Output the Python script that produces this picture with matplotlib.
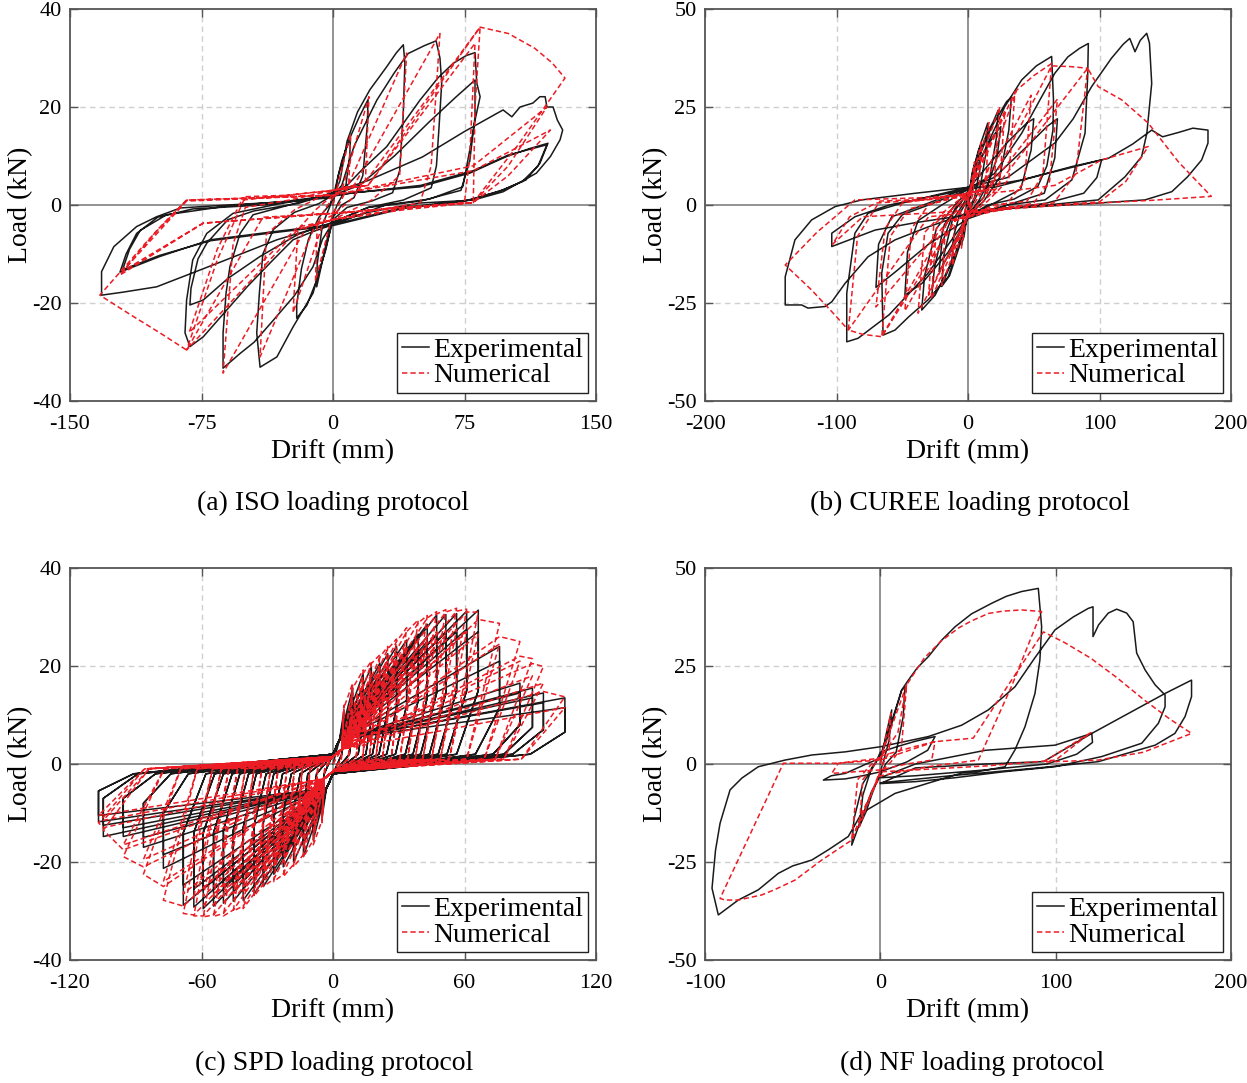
import matplotlib
matplotlib.use('Agg')
import matplotlib.pyplot as plt
from matplotlib.lines import Line2D

plt.rcParams['font.family'] = ['Liberation Serif', 'DejaVu Serif']
plt.rcParams['axes.unicode_minus'] = False

# ---------------- (a) ISO loading protocol: (drift mm, load kN) vertices ----------------
iso_exp = [
    (0, 0), (3, 6), (7, 11), (10, 13.7), (9.5, 10), (7, 3), (3, 0.5), (0, -2), (-4, -8), (-7, -13), (-9.3, -16.7),
    (-9, -12), (-6, -4), (-2, -0.5), (0, 1.5),
    (5, 9), (10, 14), (15, 18), (20, 21.5), (19.5, 16), (17, 6), (12, 1.5), (5, 0), (0, -2.5), (-4, -9), (-10, -16),
    (-15, -20.5), (-20.7, -23.1), (-20.7, -20.4), (-18, -13), (-14, -7), (-8, -2.5), (-2, 0), (0, 1.5),
    (4, 5), (8, 13), (14, 19), (21, 23.5), (30.6, 28.2), (36, 31), (40.1, 32.7), (41, 29), (40, 18), (38, 7), (34, 2.5),
    (22, 0.8), (8, -0.5), (0, -3), (-5, -10), (-11.4, -18), (-22.8, -24.9), (-32, -31), (-41.6, -33.1), (-43.5, -26.1),
    (-42, -18), (-40, -10), (-34, -5), (-22, -1.5), (-8, 0.3), (0, 2),
    (5, 4), (12, 12), (25, 21.4), (35, 27), (42.8, 30.9), (52, 32.5), (58.8, 33.5), (61, 30), (62, 24.9), (60.5, 16),
    (59, 8), (56, 3.5), (40, 1), (20, -0.5), (0, -3.5), (-6, -7), (-11.4, -12.6), (-22, -18.5), (-34, -23.5), (-45, -28),
    (-53, -30.3), (-62.7, -33.3), (-62.7, -26.1), (-61, -18), (-58.8, -12.6), (-53, -5.8), (-45.6, -2), (-25, 0), (0, 2.5),
    (8, 4), (16, 7), (30.6, 11.9), (49.6, 21.4), (60, 26), (68.5, 28.9), (76, 30.5), (81, 31.1), (82, 24.9), (83.9, 22.1),
    (81, 17.3), (78, 11.2), (74, 3.7), (55, 1.2), (30, 0), (0, -4), (-12, -5.5), (-22.8, -7.1), (-35, -11.5), (-49, -16.7),
    (-62, -22), (-74, -26.9), (-81.6, -28.9), (-84.4, -26.1), (-83.5, -19.4), (-80, -11.2), (-72, -5.8), (-57, -1.7),
    (-30, 0.3), (0, 2),
    (15, 4), (35, 10), (55, 17), (70, 22), (81, 25.5), (81, 18), (78, 9), (73, 3), (50, 0.8), (20, -0.5), (0, -3.5),
    (-20, -6), (-41.6, -10.5), (-60, -15), (-74, -19.4), (-81.6, -20.4), (-81, -17), (-77, -11), (-72, -7.8), (-60, -3),
    (-45, -1.2), (-20, 0.3), (0, 2.5),
    (20, 5), (51, 9.8), (75, 15), (97, 19.4), (102, 18), (106.7, 20), (114, 20.8), (118, 22.1), (121, 22.1), (122, 20),
    (125.5, 20), (128, 17.3), (131, 15.3), (129.5, 13.3), (124, 9.9), (116, 6.5), (97, 2.7), (80, 1), (49.6, 0.4),
    (20, -1.5), (0, -3.7), (-32, -7.1), (-66, -11.9), (-100.6, -16.7), (-120, -17.8), (-132, -18.4), (-132, -13.6),
    (-125, -8.5), (-112, -4.4), (-100.6, -2.4), (-87, -0.6), (-60, 0), (-30, 0.6), (0, 2),
    (11.4, 2.5), (49.6, 3.7), (78, 6.5), (99, 9.9), (112, 11.5), (122.6, 12.6), (118, 8.5), (110, 5.1), (97, 3.1),
    (78, 1), (40, -0.5), (0, -4), (-35, -5.5), (-70, -7.1), (-98.7, -10.5), (-121.5, -13.7), (-118, -10), (-112, -5.8),
    (-100, -2.5), (-80, -0.8), (-40, 0), (0, 1.8),
    (12, 2.5), (50, 4), (80, 7), (100, 10.2), (122, 12.3), (117, 8), (108, 4.8), (95, 2.8), (75, 0.8), (40, -0.7),
    (0, -4.2), (-35, -5.7), (-70, -7.3), (-99, -10.3), (-120, -13.2), (-116, -9), (-110, -5.2), (-95, -2), (-60, -0.2),
    (0, 1.5),
]
iso_num = [
    (0, 0), (10, 14.5), (9, 4), (4, 0.5), (0, -1.5), (-10, -15.5), (-9, -4), (-4, -0.5), (0, 1.5),
    (5, 3), (20.5, 22.1), (18.5, 5), (10, 1), (0, -2), (-5, -3), (-22.8, -22), (-20, -5), (-10, -1), (0, 2),
    (8, 3.5), (42, 31), (38, 6), (22, 1), (0, -3), (-10, -4), (-41.6, -31), (-38, -6), (-22, -1), (0, 3),
    (12, 4), (61, 35), (56, 8), (49.6, 0.4), (25, -1), (0, -3), (-15, -4.5), (-62.7, -34.3), (-57, -8), (-50, -0.5),
    (-25, 1), (0, 3),
    (18, 4.5), (83.9, 36.3), (81, 20), (80, 0.5), (40, -1), (0, -3), (-20, -5), (-83.5, -29.6), (-66, -11.2),
    (-50, 1.7), (-25, 2), (0, 3),
    (20, 4), (81, 33), (78, 10), (75, 0.5), (35, -1), (0, -3), (-20, -4.5), (-82, -26), (-66, -9), (-52, 1), (0, 3),
    (20, 4), (83.9, 36.3), (100, 35), (115, 32), (125, 29), (132.3, 25.9), (105, 12), (80, 0.5), (40, -0.5), (0, -1.7),
    (-40, -2.5), (-83.5, -29.6), (-98.7, -26.1), (-115, -22.5), (-133, -18.4), (-105, -7), (-83.5, 1), (-40, 1.5),
    (0, 2),
    (40, 4.5), (80, 7), (124, 15.3), (100, 6), (80, 0.5), (40, -0.5), (0, -1.7), (-74, -3.7), (-121.5, -14.3),
    (-100, -5), (-83.5, 1), (0, 2),
    (40, 5), (80, 8), (122, 20), (100, 8), (80, 0.5), (0, -1.7), (-74, -3.7), (-120, -13.5), (-83.5, 0.8), (0, 2),
]

# ---------------- (b) CUREE loading protocol ----------------
curee_exp = [
    (0, 0), (3, 8), (5, 10.5), (4, 5), (1, 1), (0, -1), (-3, -8), (-5, -10), (-4, -4), (-1, 0), (0, 1),
    (4, 9), (8, 14), (10, 15.5), (9, 9), (5, 2), (0, -1.5), (-5, -8), (-10, -13.5), (-12.4, -14.8), (-11, -8), (-6, -2),
    (0, 1.5),
    (5, 10), (10, 16), (15, 20.9), (14, 14), (9, 4), (3, 0), (0, -2), (-6, -10), (-14, -18), (-20, -20.8), (-18.5, -13),
    (-12, -4), (-4, 0), (0, 2.5),
    (6, 10), (14, 18), (19.3, 21.3), (23, 24.2), (21.5, 17), (16, 6), (8, 1), (0, -2.5), (-8, -11), (-18, -19),
    (-27.6, -23.4), (-25.5, -16), (-18, -5), (-8, -0.5), (0, 3),
    (8, 12), (18, 20), (29.4, 26.4), (33, 27.5), (31, 19), (24, 7), (12, 1), (0, -3), (-10, -13), (-25, -23),
    (-35.2, -26.8), (-33, -18), (-24, -6), (-10, 0), (0, 3.5),
    (10, 12), (20, 18), (25, 20), (22, 12), (12, 2), (0, -2.5), (-10, -10), (-22, -17), (-20, -10), (-10, -1), (0, 3),
    (10, 12), (28, 25.1), (40.8, 31.9), (52, 35.5), (63.6, 37.9), (65, 26.8), (64.6, 19.1), (60, 10), (53, 4.7),
    (35, 1.5), (15, 0), (0, -3), (-15, -18.3), (-30.4, -24.2), (-45, -28.5), (-55.5, -31.9), (-64.6, -33.2),
    (-65.6, -17.4), (-60.8, -7.2), (-50, -2.5), (-30, 0), (0, 4),
    (15, 10), (30, 16), (45, 21), (50, 22), (48, 14), (40, 4), (20, 0.5), (0, -3), (-15, -12), (-35, -20), (-48, -23),
    (-46, -12), (-38, -4), (-20, 0), (0, 4),
    (20, 8), (40.8, 18.3), (55, 27), (66, 33.6), (76, 37.8), (85, 40), (91.5, 41.2), (91, 32.7), (89, 18.3), (79, 6.4),
    (58.6, 1.3), (30, 0), (0, -3), (-30.4, -17.4), (-60, -28), (-83.6, -34), (-92.2, -34.9), (-92.2, -22.5), (-86, -7.2),
    (-76, -2.1), (-50, 0.5), (0, 4.5),
    (20, 7), (45, 15), (60, 20), (68, 22), (66, 12), (58, 3), (30, 0), (0, -3.5), (-30, -10), (-55, -17), (-70, -21),
    (-68, -10), (-58, -3), (-30, 0.5), (0, 4.5),
    (30, 7), (66, 15.8), (80, 22), (94, 30.2), (109, 37.4), (118, 41), (123, 42.5), (127, 39.1), (131, 42),
    (135.9, 43.8), (138, 41.3), (139.7, 31), (136, 18.3), (132, 12.3), (119.4, 7.2), (99, 1.3), (60, 0), (20, -1),
    (0, -2), (-30.4, -5.6), (-55.5, -8.9), (-76, -13.2), (-93.5, -20), (-103.6, -24.7), (-108.7, -25.9),
    (-121.7, -26.3), (-126.5, -25.5), (-139, -25.5), (-139, -18.3), (-131.6, -8.9), (-118.9, -3.8), (-101, -0.4),
    (-80.8, 1.3), (-40, 3), (0, 4.5),
    (20, 4.5), (60, 8), (101.6, 11.5), (98, 7), (88, 3), (60, 0.5), (0, -2.5), (-40, -4.5), (-70.7, -6.4),
    (-103.6, -10.6), (-103.6, -7.2), (-86, -3), (-60, 0), (0, 4),
    (40.8, 6.4), (79, 9.8), (106.7, 11.9), (125, 15.5), (139.7, 19.1), (148, 17.4), (160, 18.5), (171, 19.6),
    (182.5, 19.1), (182.5, 15.8), (177.7, 11.5), (167, 7.2), (155, 3.4), (134.6, 1.3), (99, 0.5), (50, -0.5), (0, -1.5),
]
curee_num = [
    (0, 0), (5, 11), (4, 3), (1, 0), (0, -1), (-5, -11), (-4, -3), (-1, 0), (0, 1),
    (10, 16), (8.5, 4), (3, 0.5), (0, -1.5), (-12, -15.5), (-10, -4), (-4, -0.5), (0, 1.5),
    (16, 21), (13.5, 5), (6, 1), (0, -2), (-20, -20.5), (-17, -5), (-8, -1), (0, 2),
    (24, 25), (20, 6), (10, 1), (0, -2.5), (-28, -24), (-24, -6), (-12, -1), (0, 2.5),
    (35.7, 28.9), (31, 6.5), (15, 1), (0, -3), (-38, -27.6), (-33, -7), (-16, -1), (0, 3),
    (28, 24), (24, 5), (12, 1), (0, -2.5), (-30, -23), (-26, -5), (-12, -1), (0, 2.5),
    (10, 4), (37, 29.3), (50, 33), (63.6, 36.1), (57, 8), (45, 1), (20, 0), (0, -3), (-10, -4), (-65.6, -33.6),
    (-59, -8), (-45, -1), (-20, 1), (0, 3),
    (10, 4), (48, 28), (43, 6), (30, 0.5), (0, -3), (-10, -4), (-48, -27), (-43, -6), (-30, 0), (0, 3),
    (15, 4), (63.6, 35.5), (78, 35.3), (91, 34.9), (82, 8), (65, 0.5), (30, -0.5), (0, -3), (-15, -4), (-65.6, -33.6),
    (-80, -33), (-91, -31.9), (-84, -8), (-67, 1), (-30, 1.5), (0, 3),
    (15, 4), (68, 27), (62, 6), (50, 0.5), (0, -3), (-15, -4), (-70, -26), (-63, -6), (-50, 0.5), (0, 3),
    (20, 4), (91, 34.9), (99, 30.2), (117, 26.8), (137, 20.9), (160, 11), (185, 2.2), (140, 1.2), (99, 0.5),
    (50, -0.5), (0, -2), (-30, -3), (-91, -31.9), (-100, -28.5), (-118.9, -21.7), (-139, -15.3), (-115, -7),
    (-86, 1.3), (-40, 1.8), (0, 2.5),
    (30, 3.5), (66, 5), (101.6, 11.5), (137, 14.9), (120, 6), (100, 0.8), (0, -1.5), (-80, -3), (-103, -10), (-90, -3),
    (-70, 0.5), (0, 2),
]

# ---------------- (c) SPD loading protocol: per-step values ----------------
spd_drift_pos = [5, 9, 13.8, 17.5, 21.4, 25, 29, 33.6, 38.9, 43, 47.3, 51.5, 56.4, 61, 66.3, 76, 85.3, 91, 96, 105.8]
spd_drift_neg = [-5, -9, -13.5, -18, -22.7, -27, -31.8, -36, -41, -45.5, -50, -54.5, -59.2, -63.5, -68.3, -77.4,
                 -86.5, -95.7, -104.8, -107]
spd_exp_peak_pos = [11, 15.5, 18.5, 19.8, 20.6, 22.5, 24, 25.3, 26.5, 28.5, 30.4, 30.5, 30.7, 31.2, 31.4, 24, 16.5,
                    15.5, 14.5, 13.5]
spd_exp_peak_neg = [-11, -15.5, -18.9, -20, -21, -22.5, -25, -26.5, -27.8, -28, -28.4, -29, -29.5, -29.2, -28.8,
                    -21.3, -17, -14.8, -14.8, -11.8]
spd_exp_stab_pos = [9.5, 13.5, 16, 17.5, 18, 20, 21, 22, 23, 25, 26.5, 27, 27, 27.5, 27, 21, 14.5, 13.5, 12.5, 11.5]
spd_exp_stab_neg = [-9.5, -13.5, -16.5, -17.5, -18.5, -20, -22, -23, -24, -24.5, -25, -25.5, -25.5, -25.5, -24.7,
                    -18.5, -15, -13, -12.5, -10.5]
spd_exp_knee_pos = [5, 7.5, 9, 9.5, 10, 11, 11.5, 12, 13, 13.5, 14.5, 14.5, 15, 15, 15, 11.5, 8, 7.5, 7, 6.5]
spd_exp_knee_neg = [-5, -7.5, -9, -9.5, -10, -11, -12, -12.5, -13, -13.5, -13.5, -14, -14, -14, -14, -10, -8, -7,
                    -7, -5.5]
spd_exp_zero_pos = [4, 7.5, 11.5, 15, 18, 21, 24.5, 28.5, 33, 36.5, 40, 44, 48, 52, 56.4, 65, 73, 78, 82, 90]
spd_exp_zero_neg = [-4, -7.5, -11.5, -15, -19, -23, -27, -30.5, -35, -38.5, -42.5, -46, -50, -54, -58, -66, -74,
                    -81, -89, -91]
spd_exp_pinch = (3.0, 5.0)      # drift, load at end of pinched region
spd_exp_cross = 2.0             # load at zero drift
spd_exp_resid = 2.0             # load when unloading ends

spd_num_peak_pos = [12, 16.5, 19.2, 21, 22.3, 24, 25.5, 27.8, 29.4, 30.3, 31.1, 31.5, 31.8, 31.6, 31, 28.7, 25, 21.5,
                    19.9, 13.7]
spd_num_env_pos = [11.5, 15.5, 18.5, 20.5, 21.8, 23.5, 25, 27, 28.8, 29.8, 30.6, 31, 31.2, 31, 29.5, 26, 22, 20.5,
                   14.8]
spd_num_stab_pos = [10.5, 14.5, 17, 18.5, 19.5, 21, 22.5, 24, 25.5, 26, 27, 27.3, 27.5, 27, 26.5, 24.5, 21, 18, 16.5,
                    11.5]
spd_num_peak_neg = [-12, -16.5, -19, -21, -23, -24, -25, -27, -29.5, -30, -31, -31.1, -31.2, -31, -30.5, -27.8,
                    -22.5, -18.9, -13.5, -12]
spd_num_env_neg = [-11.5, -15.5, -18.5, -20.5, -22.5, -23.5, -24.5, -26.5, -29, -29.8, -30.5, -30.8, -31, -30.8,
                   -29, -25, -21, -17.5, -13]
spd_num_stab_neg = [-10.5, -14.5, -17, -18.5, -20, -21, -22, -24, -26, -26.5, -27, -27, -27, -27, -26.5, -24, -19.5,
                    -16.5, -11.5, -10.5]
spd_num_zero_pos = [3.8, 7, 10.5, 13.5, 16.5, 19.5, 22.5, 26.5, 30.5, 34, 37.5, 41, 45, 49, 53, 61, 69, 74, 78, 86]
spd_num_zero_neg = [-3.8, -7, -10.5, -14, -17.5, -21, -25, -28.5, -32.5, -36, -40, -43.5, -47.5, -51, -55, -62,
                    -69.5, -77, -84, -86]
spd_num_pinch = (4.0, 3.0)
spd_num_cross = 1.5
spd_num_resid = 1.0

# ---------------- (d) NF loading protocol ----------------
nf_exp = [
    (0, 0), (3, 7), (6.5, 13.8), (5, 6), (2, 1), (0, -2), (-5, -8), (-8, -12), (-12, -16), (-10, -8), (-5, -1), (0, 2),
    (5, 9), (8, 13), (12.2, 18.9), (14, 19.5), (13, 12), (9, 3), (3, 0), (0, -3), (-5, -7), (-10, -13), (-16.3, -20.7),
    (-15, -14), (-10, -5), (-3, 0), (0, 3),
    (10, 4.5), (20, 5.8), (31.2, 7), (27, 3.5), (15, 0.5), (0, -2), (-10, -3), (-20, -3.8), (-32.5, -4.1), (-28, -3),
    (-20, -2.4), (-8, 0), (0, 1.5),
    (5, 8), (12.2, 18.9), (16, 21.4), (21, 24.5), (27.4, 27.4), (35, 31.6), (42.6, 35), (52, 38.3), (63.5, 41),
    (72, 42.8), (80.6, 44), (90.1, 44.8), (92, 35), (91, 26.5), (88.2, 18), (82.5, 9.5), (76.8, 3.6), (71.1, -0.7),
    (55, -2), (46.4, -2.3), (27.2, -4.9), (8.4, -7.5), (-10.6, -12.5), (-18.3, -18.5), (-29.7, -21.9), (-39.1, -24.5),
    (-50, -26), (-58.2, -27.9), (-69.6, -32.1), (-81, -34.7), (-92.4, -38.5), (-96, -31.7), (-94, -22),
    (-91.4, -15.1), (-85.7, -6.6), (-79, -3.6), (-69.6, -0.7), (-54.4, 1), (-39, 2.3), (-20, 3.1), (0, 4.4),
    (27.4, 7), (46.4, 9.9), (61.6, 13.8), (76.8, 19.7), (88, 27), (99.6, 34.2), (110, 37.5), (118.6, 39.7),
    (121.3, 40.1), (121.3, 32.5), (124.5, 35.5), (130, 38.5), (134.8, 39.5), (140.5, 38.5), (144.2, 36.3),
    (146.2, 28.3), (151, 24), (156.7, 20.2), (162.4, 17.6), (162.4, 14.6), (158.6, 10.4), (149.1, 5.3), (126.3, 1.9),
    (99.6, -0.7), (70, -2), (42.6, -3.5), (20, -4.5), (0, -5), (20, -1), (60, 0), (93, 0.6), (120.6, 7.8),
    (121, 5.5), (112, 2.5), (95, 0), (60, -1.5), (20, -3), (0, -3.5), (20, 0), (60, 3.5), (99.6, 4.8), (120.6, 7.8),
    (141.5, 12.9), (162.4, 18), (177.5, 21.4), (177.5, 17.2), (173.8, 12.1), (168, 7.8), (156.7, 4.8), (124.3, 0.6),
    (90, -1), (40, -3), (0, -4.8),
]
nf_num = [
    (0, 0), (6, 13), (5, 3), (2, 0.5), (0, -1.5), (-12, -16), (-10, -4), (-4, -0.5), (0, 1.5),
    (15, 20.2), (12, 4), (6, 0.5), (0, -2), (-16.3, -19.4), (-13, -4), (-6, -0.5), (0, 2),
    (20, 4.5), (31.2, 5.7), (29.3, 1), (15, 0), (0, -1.5), (-15, -2), (-27.7, -2.4), (-24, 0.2), (0, 1.5),
    (10, 8), (15, 20.2), (25, 27), (35, 31.5), (45, 34.8), (52, 36.5), (61.6, 38.4), (70, 39), (80.6, 39.3),
    (92, 38.9), (75, 20), (55.9, 1), (30, -0.5), (0, -3), (-10, -12), (-16.3, -19.4), (-22, -21.1), (-33.4, -24.5),
    (-48.6, -29.6), (-60, -32), (-67.6, -33.4), (-81, -34.7), (-88.6, -34.7), (-91.4, -34.3), (-55.3, 0.2),
    (-24, 0.2), (0, 1), (31.2, 5.7), (53, 6.6), (93, 33.7), (105, 31), (120, 27), (135, 22), (150, 16.5),
    (165, 11.5), (177.5, 7.8), (150, 3), (124.3, 1), (93, 0.5), (120, 8), (100, 1), (60, -0.5), (0, -2),
]

captions = ['(a) ISO loading protocol', '(b) CUREE loading protocol',
            '(c) SPD loading protocol', '(d) NF loading protocol']
legend_labels = ['Experimental', 'Numerical']

EXP_COLOR = '#1a1a1a'
NUM_COLOR = '#ec1c24'
NUM_DASH = (0, (3.5, 2.0))


def spd_exp_path():
    pts = [(0.0, 0.0)]
    pd_, pf_ = spd_exp_pinch
    for i in range(len(spd_drift_pos)):
        for pk_p, pk_n in ((spd_exp_peak_pos[i], spd_exp_peak_neg[i]),
                           (spd_exp_stab_pos[i], spd_exp_stab_neg[i])):
            pts += [(pd_, pf_), (spd_drift_pos[i], pk_p), (spd_drift_pos[i], spd_exp_knee_pos[i]),
                    (spd_exp_zero_pos[i], spd_exp_resid), (0.0, -spd_exp_cross), (-pd_, -pf_),
                    (spd_drift_neg[i], pk_n), (spd_drift_neg[i], spd_exp_knee_neg[i]),
                    (spd_exp_zero_neg[i], -spd_exp_resid), (0.0, spd_exp_cross)]
    return pts


def spd_num_path():
    pts = [(0.0, 0.0)]
    pd_, pf_ = spd_num_pinch
    for i in range(len(spd_drift_pos)):
        pts.append((pd_, pf_))
        if i > 0:
            pts.append((spd_drift_pos[i - 1], spd_num_env_pos[i - 1]))
        pts += [(spd_drift_pos[i], spd_num_peak_pos[i]), (spd_num_zero_pos[i], spd_num_resid),
                (0.0, -spd_num_cross), (-pd_, -pf_)]
        if i > 0:
            pts.append((spd_drift_neg[i - 1], spd_num_env_neg[i - 1]))
        pts += [(spd_drift_neg[i], spd_num_peak_neg[i]), (spd_num_zero_neg[i], -spd_num_resid),
                (0.0, spd_num_cross)]
        pts += [(pd_, pf_), (spd_drift_pos[i], spd_num_stab_pos[i]), (spd_num_zero_pos[i], spd_num_resid),
                (0.0, -spd_num_cross), (-pd_, -pf_), (spd_drift_neg[i], spd_num_stab_neg[i]),
                (spd_num_zero_neg[i], -spd_num_resid), (0.0, spd_num_cross)]
    return pts


def draw_panel(ax, exp_pts, num_pts, xlim, ylim, xticks, yticks):
    ax.set_xlim(xlim)
    ax.set_ylim(ylim)
    ax.set_xticks(xticks)
    ax.set_yticks(yticks)
    for t in xticks:
        if t != 0 and xlim[0] < t < xlim[1]:
            ax.axvline(t, color='#cfcfcf', lw=1.0, ls=(0, (4, 3)), zorder=0)
    for t in yticks:
        if t != 0 and ylim[0] < t < ylim[1]:
            ax.axhline(t, color='#cfcfcf', lw=1.0, ls=(0, (4, 3)), zorder=0)
    ax.axvline(0, color='#8a8a8a', lw=1.3, zorder=0.5)
    ax.axhline(0, color='#8a8a8a', lw=1.3, zorder=0.5)
    ax.plot([p[0] for p in exp_pts], [p[1] for p in exp_pts], color=EXP_COLOR, lw=1.1, zorder=2)
    ax.plot([p[0] for p in num_pts], [p[1] for p in num_pts], color=NUM_COLOR, lw=1.1, ls=NUM_DASH, zorder=3)
    ax.tick_params(direction='in', length=6, width=1.0, top=True, right=True, labelsize=16,
                   color='#555555')
    ax.tick_params(axis='x', pad=10)
    ax.tick_params(axis='y', pad=6)
    for s in ax.spines.values():
        s.set_color('#555555')
        s.set_linewidth(1.3)
    ax.set_xlabel('Drift (mm)', fontsize=20)
    ax.set_ylabel('Load (kN)', fontsize=20)
    ax.xaxis.set_label_coords(0.5, -0.097)
    ax.yaxis.set_label_coords(-0.07, 0.5)
    handles = [Line2D([], [], color=EXP_COLOR, lw=1.1),
               Line2D([], [], color=NUM_COLOR, lw=1.1, ls=NUM_DASH)]
    leg = ax.legend(handles, legend_labels, loc='lower right', fontsize=20, frameon=True, fancybox=False,
                    edgecolor='#222222', framealpha=1, borderpad=0.15, labelspacing=0.0, handlelength=1.0,
                    handletextpad=0.15, borderaxespad=0.3)
    leg.get_frame().set_linewidth(1.0)


fig = plt.figure(figsize=(12.47, 10.83), dpi=100)
W, H = 1247.0, 1083.0
ax_a = fig.add_axes([70 / W, 1 - 401 / H, 526 / W, 392 / H])
ax_b = fig.add_axes([705 / W, 1 - 401 / H, 526 / W, 392 / H])
ax_c = fig.add_axes([70 / W, 1 - 960 / H, 526 / W, 392 / H])
ax_d = fig.add_axes([705 / W, 1 - 960 / H, 526 / W, 392 / H])

draw_panel(ax_a, iso_exp, iso_num, (-150, 150), (-40, 40), [-150, -75, 0, 75, 150], [-40, -20, 0, 20, 40])
draw_panel(ax_b, curee_exp, curee_num, (-200, 200), (-50, 50), [-200, -100, 0, 100, 200], [-50, -25, 0, 25, 50])
draw_panel(ax_c, spd_exp_path(), spd_num_path(), (-120, 120), (-40, 40), [-120, -60, 0, 60, 120],
           [-40, -20, 0, 20, 40])
draw_panel(ax_d, nf_exp, nf_num, (-100, 200), (-50, 50), [-100, 0, 100, 200], [-50, -25, 0, 25, 50])

fig.text(333 / W, 1 - 503 / H, captions[0], ha='center', va='center', fontsize=20)
fig.text(970 / W, 1 - 503 / H, captions[1], ha='center', va='center', fontsize=20)
fig.text(334 / W, 1 - 1063 / H, captions[2], ha='center', va='center', fontsize=20)
fig.text(972 / W, 1 - 1063 / H, captions[3], ha='center', va='center', fontsize=20)

fig.savefig('out.png', dpi=100)
